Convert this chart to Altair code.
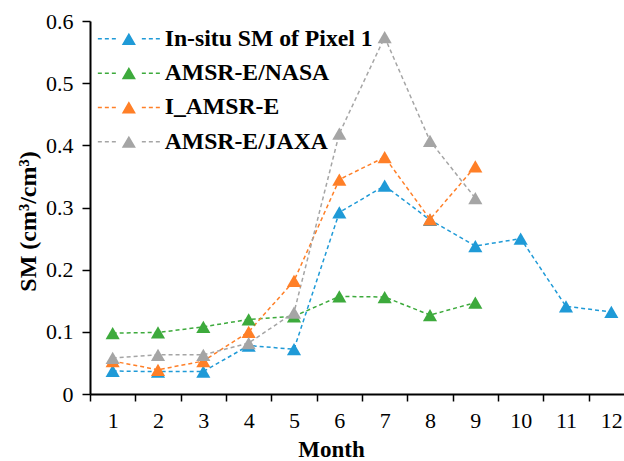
import altair as alt
import pandas as pd

# ---- data ----
months = [str(m) for m in range(1, 13)]
series_names = ["In-situ SM of Pixel 1", "AMSR-E/NASA", "I_AMSR-E", "AMSR-E/JAXA"]
insitu = [0.037, 0.036, 0.036, 0.078, 0.072, 0.292, 0.335, 0.280, 0.238, 0.250, 0.141, 0.132]
nasa = [0.098, 0.099, 0.108, 0.120, 0.125, 0.157, 0.156, 0.127, 0.147]
iamsre = [0.053, 0.039, 0.053, 0.100, 0.182, 0.345, 0.381, 0.281, 0.366]
jaxa = [0.058, 0.063, 0.063, 0.082, 0.131, 0.419, 0.574, 0.407, 0.315]
colors = ["#1F9AD7", "#3DAA3C", "#FF7F27", "#A5A5A5"]
y_ticks = [0, 0.1, 0.2, 0.3, 0.4, 0.5, 0.6]

rows = []
for name, vals in zip(series_names, [insitu, nasa, iamsre, jaxa]):
    for i, v in enumerate(vals):
        rows.append({"series": name, "month": months[i], "value": v, "order": i})
df = pd.DataFrame(rows)

# legend symbol: dashed line with a triangle in the middle (custom SVG path)
SYM = 20.0          # nominal symbol width used by the legend layout
R = SYM / 2         # path unit -> pixels
def rect(x1, x2, h=0.75):
    return f"M{x1/R:.4f},{-h/R:.4f}H{x2/R:.4f}V{h/R:.4f}H{x1/R:.4f}Z"
parts = [rect(a, b) for a, b in [(-31, -27), (-24, -20), (-17, -13), (13, 17), (20, 24), (27, 31)]]
parts.append(f"M{-7.07/R:.4f},{6.12/R:.4f}L{7.07/R:.4f},{6.12/R:.4f}L0,{-6.12/R:.4f}Z")
symbol_path = "".join(parts)

FONT = "Liberation Serif"

color = alt.Color(
    "series:N",
    scale=alt.Scale(domain=series_names, range=colors),
    sort=series_names,
    legend=alt.Legend(
        title=None,
        orient="none",
        legendX=27,
        legendY=6,
        padding=0,
        symbolType=symbol_path,
        symbolSize=SYM * SYM,
        symbolStrokeWidth=0,
        symbolOpacity=1,
        labelFont=FONT,
        labelFontSize=23.7,
        labelFontWeight="bold",
        labelColor="black",
        labelLimit=0,
        labelOffset=24,
        rowPadding=9.3,
    ),
)

x = alt.X(
    "month:O",
    sort=months,
    bandPosition=0.5,
    scale=alt.Scale(type="band", domain=months, range=[0, 544], paddingInner=0, paddingOuter=0),
    axis=alt.Axis(
        title="Month",
        tickBand="extent",
        labelAngle=0,
        labelFont=FONT,
        labelFontSize=22,
        labelColor="black",
        labelPadding=9,
        tickSize=7,
        tickColor="black",
        tickWidth=1.5,
        domainColor="black",
        domainWidth=2,
        grid=False,
        titleFont=FONT,
        titleFontSize=23,
        titleFontWeight="bold",
        titleColor="black",
        titleX=241,
        titleY=62,
        titleBaseline="alphabetic",
        titleAlign="center",
    ),
)

y = alt.Y(
    "value:Q",
    scale=alt.Scale(domain=[0, 0.6], nice=False, zero=True),
    axis=alt.Axis(
        title="SM (cm³/cm³)",
        values=y_ticks,
        format=".1~f",
        labelFont=FONT,
        labelFontSize=22,
        labelColor="black",
        labelPadding=9,
        tickSize=8,
        tickColor="black",
        tickWidth=1.5,
        domainColor="black",
        domainWidth=2,
        grid=False,
        titleFont=FONT,
        titleFontSize=24,
        titleFontWeight="bold",
        titleColor="black",
        titleAngle=270,
        titleX=-55,
        titleY=200,
        titleAlign="center",
        titleBaseline="alphabetic",
    ),
)

base = alt.Chart(df).encode(x=x, y=y, color=color, order="order:Q", detail="series:N")

lines = base.mark_line(strokeDash=[4, 3], strokeWidth=1.5, opacity=1)
points = base.mark_point(shape="triangle-up", filled=True, size=200, opacity=1)

chart = (
    alt.layer(lines, points)
    .properties(
        width=534,
        height=373,
        autosize=alt.AutoSizeParams(type="none"),
        padding={"left": 90, "top": 21, "right": 0, "bottom": 67},
        background="white",
    )
    .configure_view(stroke=None)
)

chart.save("out.html", embed_options={"renderer": "svg", "actions": False})
